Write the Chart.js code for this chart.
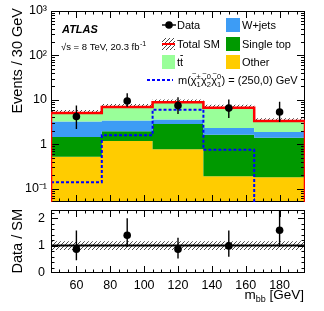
<!DOCTYPE html>
<html>
<head>
<meta charset="utf-8">
<script src="https://cdn.jsdelivr.net/npm/chart.js@4.4.0/dist/chart.umd.min.js"></script>
<style>
html, body { margin: 0; padding: 0; background: #fff; }
#wrap { position: relative; width: 324px; height: 311px; }
canvas { position: absolute; left: 0; }
</style>
</head>
<body>
<div id="wrap">
  <canvas id="mainChart" width="324" height="206" style="top:0px"></canvas>
  <canvas id="ratioChart" width="324" height="105" style="top:206px"></canvas>
</div>
<script>
// bins in m_bb [GeV]
var binEdges = [45, 75, 105, 135, 165, 195];
var binCentres = [60, 90, 120, 150, 180];

// backgrounds, events / 30 GeV
var otherBkg = [0.52, 1.18, 0.77, 0.19, 0.18];
var singleTop = [0.94, 0.77, 2.07, 1.45, 1.21];
var wJets = [1.79, 1.47, 0.76, 0.68, 0.50];
var ttbar = [1.83, 3.48, 5.20, 4.34, 1.43];
var signal = [0.14, 1.6, 6.0, 0.75, 0];

// data and its error bars
var dataVals = [4.2, 9.4, 7.4, 6.5, 5.3];
var dataHi = [7.4, 14.0, 11.4, 10.1, 9.1];
var dataLo = [2.2, 7.0, 4.8, 3.9, 3.15];

// ratio panel
var ratioVals = [0.87, 1.38, 0.87, 0.99, 1.56];
var ratioHi = [1.55, 2.0, 1.29, 1.55, 2.4];
var ratioLo = [0.47, 0.95, 0.53, 0.59, 0.95];
var sysLo = [0.84, 0.84, 0.84, 0.84, 0.84];
var sysHi = [1.16, 1.16, 1.16, 1.16, 1.16];

// tick labels
var mainYTicks = [0.1, 1, 10, 100, 1000];
var mainYLabels = ['10\u207B\u00B9', '1', '10', '10\u00B2', '10\u00B3'];
var ratioYTicks = [0, 1, 2];
var ratioYLabels = ['0', '1', '2'];
var xTicks = [60, 80, 100, 120, 140, 160, 180];
var xLabels = ['60', '80', '100', '120', '140', '160', '180'];

var FONT = '"Liberation Sans", Arial, Helvetica, sans-serif';
Chart.defaults.font.family = FONT;
Chart.defaults.color = '#000';

var colOther = '#ffcc00', colTop = '#009900', colW = '#3d9cf5', colTT = '#99ff99';

// helpers
function addUp(a, b) { return a.map(function (v, i) { return v + b[i]; }); }
function scaleBy(a, f) { return a.map(function (v, i) { return v * f[i]; }); }
function stepPts(vals) {
  var pts = vals.map(function (v, i) { return { x: binEdges[i], y: v > 0 ? v : 1e-3 }; });
  pts.push({ x: binEdges[binEdges.length - 1], y: pts[pts.length - 1].y });
  return pts;
}
function pointPts(vals) { return vals.map(function (v, i) { return { x: binCentres[i], y: v }; }); }

var cumOther = otherBkg.slice();
var cumTop = addUp(cumOther, singleTop);
var cumW = addUp(cumTop, wJets);
var totalSM = addUp(cumW, ttbar);

var totalLine = stepPts(totalSM);
totalLine.unshift({ x: binEdges[0], y: 1e-3 });
totalLine.push({ x: binEdges[binEdges.length - 1], y: 1e-3 });

var hatchCanvas = document.createElement('canvas');
hatchCanvas.width = 4; hatchCanvas.height = 4;
(function () {
  var g = hatchCanvas.getContext('2d');
  g.strokeStyle = '#333'; g.lineWidth = 0.9;
  g.beginPath();
  g.moveTo(0, 4); g.lineTo(4, 0);
  g.moveTo(-1, 1); g.lineTo(1, -1);
  g.moveTo(3, 5); g.lineTo(5, 3);
  g.stroke();
})();
var hatch = hatchCanvas.getContext('2d').createPattern(hatchCanvas, 'repeat');

// frame with inward ticks on all four sides
var framePlugin = {
  id: 'atlasFrame',
  afterDatasetDraw: function (chart, args, o) {
    if (args.index !== o.afterIndex) return;
    var ctx = chart.ctx, a = chart.chartArea, xs = chart.scales.x, ys = chart.scales.y;
    ctx.save();
    ctx.strokeStyle = '#000'; ctx.lineWidth = 1;
    ctx.beginPath();
    for (var v = 50; v <= 190; v += 5) {
      var px = Math.round(xs.getPixelForValue(v)) + 0.5;
      var len = v % 20 === 0 ? o.xMajor : o.xMinor;
      ctx.moveTo(px, a.bottom); ctx.lineTo(px, a.bottom - len);
      ctx.moveTo(px, a.top); ctx.lineTo(px, a.top + len);
    }
    o.yTicks.forEach(function (t) {
      var py = Math.round(ys.getPixelForValue(t.v)) + 0.5;
      if (py < a.top || py > a.bottom) return;
      var len = t.major ? o.yMajor : o.yMinor;
      ctx.moveTo(a.left, py); ctx.lineTo(a.left + len, py);
      ctx.moveTo(a.right, py); ctx.lineTo(a.right - len, py);
    });
    ctx.stroke();
    ctx.strokeRect(a.left + 0.5, a.top + 0.5, a.right - a.left - 1, a.bottom - a.top - 1);
    ctx.restore();
  }
};

var errorBarPlugin = {
  id: 'errBars',
  afterDatasetDraw: function (chart, args, o) {
    if (args.index !== o.index) return;
    var ctx = chart.ctx, a = chart.chartArea, xs = chart.scales.x, ys = chart.scales.y;
    ctx.save();
    ctx.beginPath(); ctx.rect(a.left, a.top, a.right - a.left, a.bottom - a.top); ctx.clip();
    ctx.strokeStyle = '#000'; ctx.lineWidth = 1.4;
    ctx.beginPath();
    for (var i = 0; i < binCentres.length; i++) {
      var px = xs.getPixelForValue(binCentres[i]);
      ctx.moveTo(px, ys.getPixelForValue(o.hi[i]));
      ctx.lineTo(px, ys.getPixelForValue(o.lo[i]));
    }
    ctx.stroke();
    ctx.restore();
  }
};

function logTicks(lo, hi) {
  var out = [];
  for (var k = -2; k <= 3; k++) {
    for (var m = 1; m <= 9; m++) {
      var v = m * Math.pow(10, k);
      if (v >= lo && v <= hi) out.push({ v: v, major: m === 1 });
    }
  }
  return out;
}
function linTicks() {
  var out = [];
  for (var i = 0; i <= 11; i++) out.push({ v: i * 0.2, major: i % 5 === 0 });
  return out;
}
function noPadY(s) { s.width = 51; s.paddingTop = 0; s.paddingBottom = 0; }

// text, legend and axis titles of the main panel
var mainText = {
  id: 'mainText',
  afterDraw: function (chart) {
    var ctx = chart.ctx;
    ctx.save();
    ctx.fillStyle = '#000';
    ctx.textBaseline = 'alphabetic';

    // y title
    ctx.save();
    ctx.translate(22, 8);
    ctx.rotate(-Math.PI / 2);
    ctx.textAlign = 'right';
    ctx.font = '14.5px ' + FONT;
    ctx.fillText('Events / 30 GeV', 0, 0);
    ctx.restore();

    ctx.textAlign = 'left';
    ctx.font = 'italic bold 11px ' + FONT;
    ctx.fillText('ATLAS', 62, 33);
    ctx.font = '9.5px ' + FONT;
    var s = '\u221As = 8 TeV, 20.3 fb';
    ctx.fillText(s, 61, 49.5);
    var w = ctx.measureText(s).width;
    ctx.font = '7px ' + FONT;
    ctx.fillText('-1', 61 + w + 0.5, 45.5);

    // legend
    ctx.font = '11px ' + FONT;
    ctx.textBaseline = 'middle';
    var rows = [25, 44, 62];
    // Data
    ctx.strokeStyle = '#000'; ctx.lineWidth = 1.4;
    ctx.beginPath(); ctx.moveTo(162, rows[0]); ctx.lineTo(176, rows[0]); ctx.stroke();
    ctx.beginPath(); ctx.arc(169, rows[0], 3.8, 0, 2 * Math.PI); ctx.fill();
    ctx.fillText('Data', 177, rows[0] + 0.5);
    // Total SM
    ctx.fillStyle = hatch;
    ctx.fillRect(162, rows[1] - 6, 13, 12);
    ctx.strokeStyle = '#ff0000'; ctx.lineWidth = 2;
    ctx.beginPath(); ctx.moveTo(162, rows[1]); ctx.lineTo(175, rows[1]); ctx.stroke();
    ctx.fillStyle = '#000';
    ctx.fillText('Total SM', 177, rows[1] + 0.5);
    // ttbar
    ctx.fillStyle = colTT; ctx.fillRect(162, rows[2] - 7, 13, 14);
    ctx.fillStyle = '#000';
    ctx.fillText('tt', 177, rows[2] + 0.5);
    var tw = ctx.measureText('t').width;
    ctx.lineWidth = 0.9; ctx.strokeStyle = '#000';
    ctx.beginPath(); ctx.moveTo(177 + tw + 0.3, rows[2] - 6.5); ctx.lineTo(177 + 2 * tw - 0.2, rows[2] - 6.5); ctx.stroke();
    // right column
    var right = [['W+jets', colW], ['Single top', colTop], ['Other', colOther]];
    right.forEach(function (r, i) {
      ctx.fillStyle = r[1]; ctx.fillRect(226, rows[i] - 7, 14, 14);
      ctx.fillStyle = '#000'; ctx.fillText(r[0], 242, rows[i] + 0.5);
    });
    // signal
    var ys = 80;
    ctx.strokeStyle = '#0000ff'; ctx.lineWidth = 2; ctx.setLineDash([3, 2]);
    ctx.beginPath(); ctx.moveTo(147, ys); ctx.lineTo(173, ys); ctx.stroke();
    ctx.setLineDash([]);
    ctx.textBaseline = 'alphabetic';
    var base = ys + 4, x = 178;
    function put(txt, font, dx, dy) {
      ctx.font = font; ctx.fillText(txt, x + dx, base + dy);
      return ctx.measureText(txt).width;
    }
    var big = '11px ' + FONT, small = '7.5px ' + FONT;
    x += put('m(', big, 0, 0);
    function chi(sup, sub) {
      var cw = put('\u03C7', big, 0, 0);
      ctx.font = small;
      var tlw = ctx.measureText('~').width;
      put('~', small, cw / 2 - tlw / 2 + 0.5, -8.5);
      var a1 = put(sup, small, cw, -5);
      var a2 = put(sub, small, cw, 3);
      x += cw + Math.max(a1, a2) + 0.3;
    }
    chi('\u00B1', '1'); chi('0', '2'); chi('0', '1');
    put(') = (250,0) GeV', big, 0, 0);
    ctx.restore();
  }
};

var mainChart = new Chart(document.getElementById('mainChart'), {
  type: 'line',
  data: {
    datasets: [
      { data: stepPts(scaleBy(totalSM, sysLo)), stepped: 'before', borderWidth: 0, borderColor: 'rgba(0,0,0,0)', fill: false, order: 20 },
      { data: stepPts(scaleBy(totalSM, sysHi)), stepped: 'before', borderWidth: 0, borderColor: 'rgba(0,0,0,0)', backgroundColor: hatch, fill: '-1', order: 19 },
      { label: 'Other', data: stepPts(cumOther), stepped: 'before', borderWidth: 0, borderColor: 'rgba(0,0,0,0)', backgroundColor: colOther, fill: 'start', order: 15 },
      { label: 'Single top', data: stepPts(cumTop), stepped: 'before', borderWidth: 0, borderColor: 'rgba(0,0,0,0)', backgroundColor: colTop, fill: '-1', order: 14 },
      { label: 'W+jets', data: stepPts(cumW), stepped: 'before', borderWidth: 0, borderColor: 'rgba(0,0,0,0)', backgroundColor: colW, fill: '-1', order: 13 },
      { label: 'ttbar', data: stepPts(totalSM), stepped: 'before', borderWidth: 0, borderColor: 'rgba(0,0,0,0)', backgroundColor: colTT, fill: '-1', order: 12 },
      { label: 'Signal', data: stepPts(signal), stepped: 'before', borderWidth: 2, borderColor: '#0000ff', borderDash: [3, 2], fill: false, order: 3 },
      { label: 'Total SM', data: totalLine, stepped: 'before', borderWidth: 2.5, borderColor: '#ff0000', fill: false, order: 2 },
      { label: 'Data', data: pointPts(dataVals), showLine: false, pointRadius: 3.8, pointBackgroundColor: '#000', pointBorderWidth: 0, order: 1 }
    ]
  },
  options: {
    responsive: false,
    animation: false,
    devicePixelRatio: 1,
    layout: { padding: { top: 11, right: 19, bottom: 2, left: 0 } },
    elements: { point: { radius: 0 }, line: { tension: 0 } },
    plugins: {
      legend: { display: false },
      tooltip: { enabled: false },
      atlasFrame: { afterIndex: 5, xMajor: 7, xMinor: 3.5, yMajor: 8, yMinor: 4, yTicks: logTicks(0.05, 1000) },
      errBars: { index: 8, hi: dataHi, lo: dataLo }
    },
    scales: {
      x: { type: 'linear', min: 45, max: 195, display: false },
      y: {
        type: 'logarithmic', min: 0.05, max: 1000,
        afterFit: noPadY,
        afterBuildTicks: function (s) { s.ticks = mainYTicks.map(function (v) { return { value: v }; }); },
        grid: { display: false, drawTicks: false },
        border: { display: false },
        ticks: {
          padding: 4, color: '#000', font: { size: 12.5 },
          callback: function (v) { var i = mainYTicks.indexOf(v); return i >= 0 ? mainYLabels[i] : ''; }
        }
      }
    }
  },
  plugins: [framePlugin, errorBarPlugin, mainText]
});

var ratioText = {
  id: 'ratioText',
  afterDraw: function (chart) {
    var ctx = chart.ctx;
    ctx.save();
    ctx.fillStyle = '#000';
    ctx.textBaseline = 'alphabetic';
    ctx.save();
    ctx.translate(22, 3);
    ctx.rotate(-Math.PI / 2);
    ctx.textAlign = 'right';
    ctx.font = '14.5px ' + FONT;
    ctx.fillText('Data / SM', 0, 0);
    ctx.restore();
    // x title, right aligned
    ctx.textAlign = 'left';
    var big = '13.5px ' + FONT, small = '9px ' + FONT;
    ctx.font = big; var w1 = ctx.measureText('m').width; var w3 = ctx.measureText(' [GeV]').width;
    ctx.font = small; var w2 = ctx.measureText('bb').width;
    var x = 304 - w1 - w2 - w3, b = 93;
    ctx.font = big; ctx.fillText('m', x, b);
    ctx.font = small; ctx.fillText('bb', x + w1, b + 3);
    ctx.font = big; ctx.fillText(' [GeV]', x + w1 + w2, b);
    ctx.restore();
  }
};

var ratioChart = new Chart(document.getElementById('ratioChart'), {
  type: 'line',
  data: {
    datasets: [
      { data: stepPts(sysLo), stepped: 'before', borderWidth: 0, borderColor: 'rgba(0,0,0,0)', fill: false, order: 20 },
      { data: stepPts(sysHi), stepped: 'before', borderWidth: 0, borderColor: 'rgba(0,0,0,0)', backgroundColor: hatch, fill: '-1', order: 19 },
      { data: [{ x: 45, y: 1 }, { x: 195, y: 1 }], borderWidth: 2, borderColor: '#000', fill: false, order: 3 },
      { label: 'Data / SM', data: pointPts(ratioVals), showLine: false, pointRadius: 3.8, pointBackgroundColor: '#000', pointBorderWidth: 0, order: 1 }
    ]
  },
  options: {
    responsive: false,
    animation: false,
    devicePixelRatio: 1,
    layout: { padding: { top: 3, right: 19, bottom: 0, left: 0 } },
    elements: { point: { radius: 0 }, line: { tension: 0 } },
    plugins: {
      legend: { display: false },
      tooltip: { enabled: false },
      atlasFrame: { afterIndex: 1, xMajor: 7, xMinor: 3.5, yMajor: 7, yMinor: 3.5, yTicks: linTicks() },
      errBars: { index: 3, hi: ratioHi, lo: ratioLo }
    },
    scales: {
      x: {
        type: 'linear', min: 45, max: 195,
        afterFit: function (s) { s.height = 38; s.paddingLeft = 0; s.paddingRight = 0; },
        afterBuildTicks: function (s) { s.ticks = xTicks.map(function (v) { return { value: v }; }); },
        grid: { display: false, drawTicks: false },
        border: { display: false },
        ticks: {
          padding: 5, color: '#000', font: { size: 12.5 }, maxRotation: 0,
          callback: function (v) { var i = xTicks.indexOf(v); return i >= 0 ? xLabels[i] : ''; }
        }
      },
      y: {
        type: 'linear', min: 0, max: 2.3,
        afterFit: noPadY,
        afterBuildTicks: function (s) { s.ticks = ratioYTicks.map(function (v) { return { value: v }; }); },
        grid: { display: false, drawTicks: false },
        border: { display: false },
        ticks: {
          padding: 6, color: '#000', font: { size: 12.5 },
          callback: function (v) { var i = ratioYTicks.indexOf(v); return i >= 0 ? ratioYLabels[i] : ''; }
        }
      }
    }
  },
  plugins: [framePlugin, errorBarPlugin, ratioText]
});
</script>
</body>
</html>
